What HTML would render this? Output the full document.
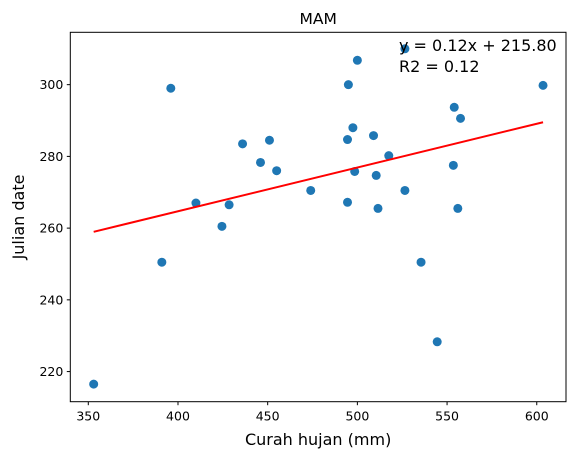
<!DOCTYPE html>
<html><head><meta charset="utf-8"><style>
body{margin:0;background:#fff;font-family:"Liberation Sans","DejaVu Sans",sans-serif}
svg text{font-family:"DejaVu Sans","Liberation Sans",sans-serif}
</style></head><body>
<svg id="chart" width="575" height="459" xmlns="http://www.w3.org/2000/svg">
<rect width="575" height="459" fill="#fff"/>
<g id="plot"></g>
</svg>
<script>
const xVals=[353,391,396,410,424.5,428.5,436,446,451,455,474,494.5,494.5,495,497.5,498.5,500,509,510.5,511.5,517.5,526.5,526.5,535.5,544.5,553.5,554,556,557.5,603.5];
const yVals=[216.5,250.5,299,267,260.5,266.5,283.5,278.3,284.5,276,270.5,284.7,267.2,300,288,275.8,306.8,285.8,274.7,265.5,280.2,310,270.5,250.5,228.3,277.5,293.7,265.5,290.6,299.8];
const xTicks=[350,400,450,500,550,600];
const yTicks=[220,240,260,280,300];
const slope=0.122, intercept=215.9;
const L=70.3,R=566,T=32.3,B=401.7;
const xMin=339.97,xMax=616.3,yMin=211.6,yMax=314.6;
const sx=v=>L+(v-xMin)/(xMax-xMin)*(R-L);
const sy=v=>B-(v-yMin)/(yMax-yMin)*(B-T);
const NS='http://www.w3.org/2000/svg';
const g=document.getElementById('plot');
function mk(t,a,txt){const e=document.createElementNS(NS,t);for(const k in a)e.setAttribute(k,a[k]);if(txt!==undefined)e.textContent=txt;g.appendChild(e);return e;}
xVals.forEach((x,i)=>{
 const c=mk('circle',{cx:sx(x),cy:sy(yVals[i]),r:4.5,fill:'#1f77b4'});
 
 
});
const x0=Math.min(...xVals),x1=Math.max(...xVals);
const ln=mk('line',{x1:sx(x0),y1:sy(slope*x0+intercept),x2:sx(x1),y2:sy(slope*x1+intercept),stroke:'#ff0000','stroke-width':2});


const fr=mk('rect',{x:L,y:T,width:R-L,height:B-T,fill:'none',stroke:'#000','stroke-width':1});


xTicks.forEach(v=>{
 mk('line',{x1:sx(v),x2:sx(v),y1:B,y2:B+3.5,stroke:'#000'});
 const t=mk('text',{x:sx(v),y:B+19,'text-anchor':'middle','font-size':12.5},v);
 
 
});
yTicks.forEach(v=>{
 mk('line',{x1:L-3.5,x2:L,y1:sy(v),y2:sy(v),stroke:'#000'});
 const t=mk('text',{x:L-7,y:sy(v)+4.5,'text-anchor':'end','font-size':12.5},v);
 
 
});
let t;
t=mk('text',{x:(L+R)/2,y:24,'text-anchor':'middle','font-size':15.5},'MAM');


t=mk('text',{x:(L+R)/2,y:445,'text-anchor':'middle','font-size':16},'Curah hujan (mm)');


t=mk('text',{x:24,y:(T+B)/2,'text-anchor':'middle','font-size':16,transform:`rotate(-90 24 ${(T+B)/2})`},'Julian date');


t=mk('text',{x:399,y:51,'font-size':16},'y = 0.12x + 215.80');


t=mk('text',{x:399,y:72,'font-size':16},'R2 = 0.12');


</script>
</body></html>
